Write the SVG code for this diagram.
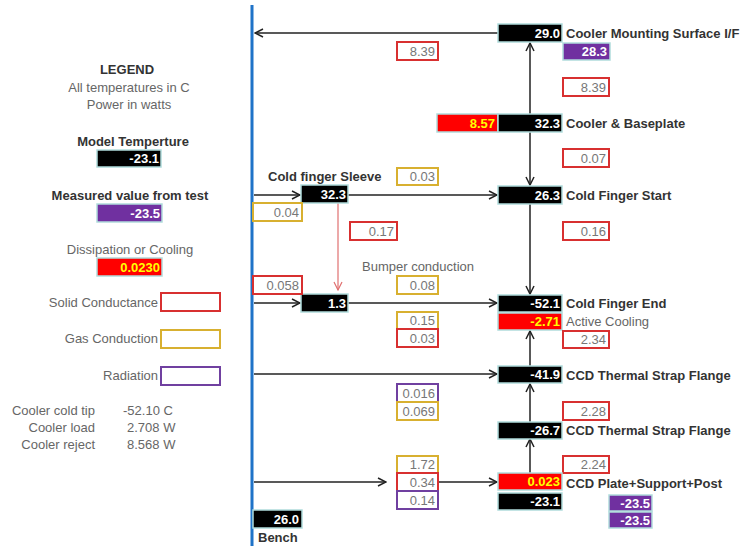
<svg xmlns="http://www.w3.org/2000/svg" width="744" height="546" viewBox="0 0 744 546">
<defs>
<marker id="ah" markerWidth="10" markerHeight="10" refX="9" refY="5" orient="auto" markerUnits="userSpaceOnUse">
<path d="M1,1 L9,5 L1,9" fill="none" stroke="#222" stroke-width="1.5"/>
</marker>
<marker id="ahr" markerWidth="10" markerHeight="10" refX="9" refY="5" orient="auto" markerUnits="userSpaceOnUse">
<path d="M1,1 L9,5 L1,9" fill="none" stroke="#e07070" stroke-width="1.2"/>
</marker>
</defs>
<style>
text{font-family:"Liberation Sans",Arial,sans-serif;}
.nb{fill:#000;stroke:#b0dcdc;stroke-width:1.5;}
.rb{fill:#ff0000;stroke:#b0dcdc;stroke-width:1.5;}
.pb{fill:#7030a0;stroke:#b0dcdc;stroke-width:1.5;}
.sc{fill:#fff;stroke:#d83030;stroke-width:2;}
.gc{fill:#fff;stroke:#d8b030;stroke-width:2;}
.rc{fill:#fff;stroke:#7040a0;stroke-width:2;}
.vw{fill:#fff;font-size:13px;font-weight:bold;text-anchor:end;}
.vy{fill:#ffff00;font-size:13px;font-weight:bold;text-anchor:end;}
.vg{fill:#777;font-size:13px;text-anchor:end;}
.lb{fill:#333;font-size:13px;font-weight:bold;}
.lg{fill:#666;font-size:13px;}
.cn{fill:none;stroke:#222;stroke-width:1.5;}
</style>
<rect width="744" height="546" fill="#fff"/>

<g id="legend">
<text x="127" y="74" class="lb" text-anchor="middle">LEGEND</text>
<text x="129" y="92" class="lg" text-anchor="middle">All temperatures in C</text>
<text x="129" y="109" class="lg" text-anchor="middle">Power in watts</text>
<text x="133" y="146" class="lb" text-anchor="middle">Model Temperture</text>
<rect x="97" y="150" width="64" height="17" class="nb"/>
<text x="159" y="163" class="vw">-23.1</text>
<text x="130" y="200" class="lb" text-anchor="middle">Measured value from test</text>
<rect x="97" y="204" width="65" height="18" class="pb"/>
<text x="160" y="218" class="vw">-23.5</text>
<text x="130" y="254" class="lg" text-anchor="middle">Dissipation or Cooling</text>
<rect x="97" y="258" width="65" height="18" class="rb"/>
<text x="160" y="272" class="vy">0.0230</text>
<text x="158" y="307" class="lg" text-anchor="end">Solid Conductance</text>
<rect x="161" y="293" width="59" height="18" class="sc"/>
<text x="158" y="343" class="lg" text-anchor="end">Gas Conduction</text>
<rect x="161" y="330" width="59" height="18" class="gc"/>
<text x="158" y="380" class="lg" text-anchor="end">Radiation</text>
<rect x="161" y="367" width="59" height="18" class="rc"/>
<text x="95" y="415" class="lg" text-anchor="end">Cooler cold tip</text>
<text x="95" y="432" class="lg" text-anchor="end">Cooler load</text>
<text x="95" y="449" class="lg" text-anchor="end">Cooler reject</text>
<text x="123" y="415" class="lg">-52.10 C</text>
<text x="127" y="432" class="lg">2.708 W</text>
<text x="127" y="449" class="lg">8.568 W</text>
</g>

<g id="bench">
<line x1="252" y1="5" x2="252" y2="546" stroke="#1f73c8" stroke-width="3"/>
<rect x="253" y="510" width="49" height="18" class="nb"/>
<text x="299" y="524" class="vw">26.0</text>
<text x="258" y="542" class="lb">Bench</text>
</g>

<g id="connectors">
<line x1="498" y1="33" x2="255" y2="33" class="cn" marker-end="url(#ah)"/>
<line x1="530" y1="114" x2="530" y2="43" class="cn" marker-end="url(#ah)"/>
<line x1="530" y1="132" x2="530" y2="185" class="cn" marker-end="url(#ah)"/>
<line x1="530" y1="204" x2="530" y2="294" class="cn" marker-end="url(#ah)"/>
<line x1="530" y1="366" x2="530" y2="331" class="cn" marker-end="url(#ah)"/>
<line x1="530" y1="422" x2="530" y2="384" class="cn" marker-end="url(#ah)"/>
<line x1="530" y1="473" x2="530" y2="439" class="cn" marker-end="url(#ah)"/>
<line x1="254" y1="195" x2="300" y2="195" class="cn" marker-end="url(#ah)"/>
<line x1="348" y1="195" x2="497" y2="195" class="cn" marker-end="url(#ah)"/>
<line x1="338" y1="203" x2="338" y2="290" fill="none" stroke="#e07070" stroke-width="1.2" marker-end="url(#ahr)"/>
<line x1="254" y1="303" x2="300" y2="303" class="cn" marker-end="url(#ah)"/>
<line x1="348" y1="303" x2="497" y2="303" class="cn" marker-end="url(#ah)"/>
<line x1="254" y1="374" x2="497" y2="374" class="cn" marker-end="url(#ah)"/>
<line x1="254" y1="482" x2="386" y2="482" class="cn" marker-end="url(#ah)"/>
<line x1="438" y1="482" x2="497" y2="482" class="cn" marker-end="url(#ah)"/>
</g>

<g id="cooler-mounting">
<rect x="498" y="24" width="64" height="18" class="nb"/>
<text x="560" y="38" class="vw">29.0</text>
<text x="566" y="38" class="lb">Cooler Mounting Surface I/F</text>
<rect x="563" y="43" width="47" height="17" class="pb"/>
<text x="607" y="56" class="vw">28.3</text>
</g>
<g id="k-8.39a"><rect x="397" y="42" width="41" height="18" class="sc"/><text x="435" y="56" class="vg">8.39</text></g>
<g id="k-8.39b"><rect x="563" y="78" width="46" height="18" class="sc"/><text x="606" y="92" class="vg">8.39</text></g>

<g id="cooler-baseplate">
<rect x="437" y="114" width="61" height="18" class="rb"/>
<text x="495" y="128" class="vy">8.57</text>
<rect x="498" y="114" width="64" height="18" class="nb"/>
<text x="560" y="128" class="vw">32.3</text>
<text x="566" y="128" class="lb">Cooler &amp; Baseplate</text>
</g>
<g id="k-0.07"><rect x="563" y="149" width="46" height="18" class="sc"/><text x="606" y="163" class="vg">0.07</text></g>

<g id="cold-finger-start">
<rect x="498" y="186" width="64" height="18" class="nb"/>
<text x="560" y="200" class="vw">26.3</text>
<text x="566" y="200" class="lb">Cold Finger Start</text>
</g>
<g id="k-0.16"><rect x="563" y="222" width="46" height="18" class="sc"/><text x="606" y="236" class="vg">0.16</text></g>

<g id="cold-finger-end">
<rect x="498" y="295" width="64" height="17" class="nb"/>
<text x="560" y="308" class="vw">-52.1</text>
<text x="566" y="308" class="lb">Cold Finger End</text>
<rect x="498" y="313" width="64" height="17" class="rb"/>
<text x="560" y="326" class="vy">-2.71</text>
<text x="566" y="326" class="lg">Active Cooling</text>
</g>
<g id="k-2.34"><rect x="563" y="331" width="46" height="17" class="sc"/><text x="606" y="344" class="vg">2.34</text></g>

<g id="ccd-strap-1">
<rect x="498" y="366" width="64" height="17" class="nb"/>
<text x="560" y="379" class="vw">-41.9</text>
<text x="566" y="380" class="lb">CCD Thermal  Strap Flange</text>
</g>
<g id="k-2.28"><rect x="563" y="402" width="46" height="18" class="sc"/><text x="606" y="416" class="vg">2.28</text></g>

<g id="ccd-strap-2">
<rect x="498" y="422" width="64" height="17" class="nb"/>
<text x="560" y="435" class="vw">-26.7</text>
<text x="566" y="435" class="lb">CCD Thermal  Strap Flange</text>
</g>
<g id="k-2.24"><rect x="563" y="456" width="46" height="17" class="sc"/><text x="606" y="469" class="vg">2.24</text></g>

<g id="ccd-plate">
<rect x="498" y="473" width="64" height="17" class="rb"/>
<text x="560" y="486" class="vy">0.023</text>
<text x="566" y="488" class="lb">CCD Plate+Support+Post</text>
<rect x="498" y="493" width="64" height="17" class="nb"/>
<text x="560" y="506" class="vw">-23.1</text>
<rect x="609" y="495" width="43" height="16" class="pb"/>
<text x="650" y="508" class="vw">-23.5</text>
<rect x="609" y="512" width="43" height="16" class="pb"/>
<text x="650" y="525" class="vw">-23.5</text>
</g>

<g id="cold-finger-sleeve">
<text x="268" y="181" class="lb">Cold finger  Sleeve</text>
<rect x="301" y="185" width="47" height="18" class="nb"/>
<text x="346" y="199" class="vw">32.3</text>
</g>
<g id="k-0.03a"><rect x="397" y="168" width="41" height="17" class="gc"/><text x="435" y="181" class="vg">0.03</text></g>
<g id="k-0.04"><rect x="253" y="203" width="49" height="18" class="gc"/><text x="299" y="217" class="vg">0.04</text></g>
<g id="k-0.17"><rect x="350" y="222" width="47" height="18" class="sc"/><text x="394" y="236" class="vg">0.17</text></g>

<g id="bumper">
<text x="362" y="271" class="lg">Bumper conduction</text>
<rect x="301" y="294" width="47" height="18" class="nb"/>
<text x="346" y="308" class="vw">1.3</text>
</g>
<g id="k-0.058"><rect x="253" y="276" width="49" height="18" class="sc"/><text x="299" y="290" class="vg">0.058</text></g>
<g id="k-0.08"><rect x="397" y="276" width="41" height="18" class="gc"/><text x="435" y="290" class="vg">0.08</text></g>
<g id="k-0.15"><rect x="397" y="312" width="41" height="17" class="gc"/><text x="435" y="325" class="vg">0.15</text></g>
<g id="k-0.03b"><rect x="397" y="329" width="41" height="18" class="sc"/><text x="435" y="343" class="vg">0.03</text></g>
<g id="k-0.016"><rect x="397" y="384" width="41" height="18" class="rc"/><text x="435" y="398" class="vg">0.016</text></g>
<g id="k-0.069"><rect x="397" y="402" width="41" height="18" class="gc"/><text x="435" y="416" class="vg">0.069</text></g>
<g id="k-1.72"><rect x="397" y="456" width="41" height="17" class="gc"/><text x="435" y="469" class="vg">1.72</text></g>
<g id="k-0.34"><rect x="397" y="473" width="41" height="18" class="sc"/><text x="435" y="487" class="vg">0.34</text></g>
<g id="k-0.14"><rect x="397" y="491" width="41" height="18" class="rc"/><text x="435" y="505" class="vg">0.14</text></g>
</svg>
